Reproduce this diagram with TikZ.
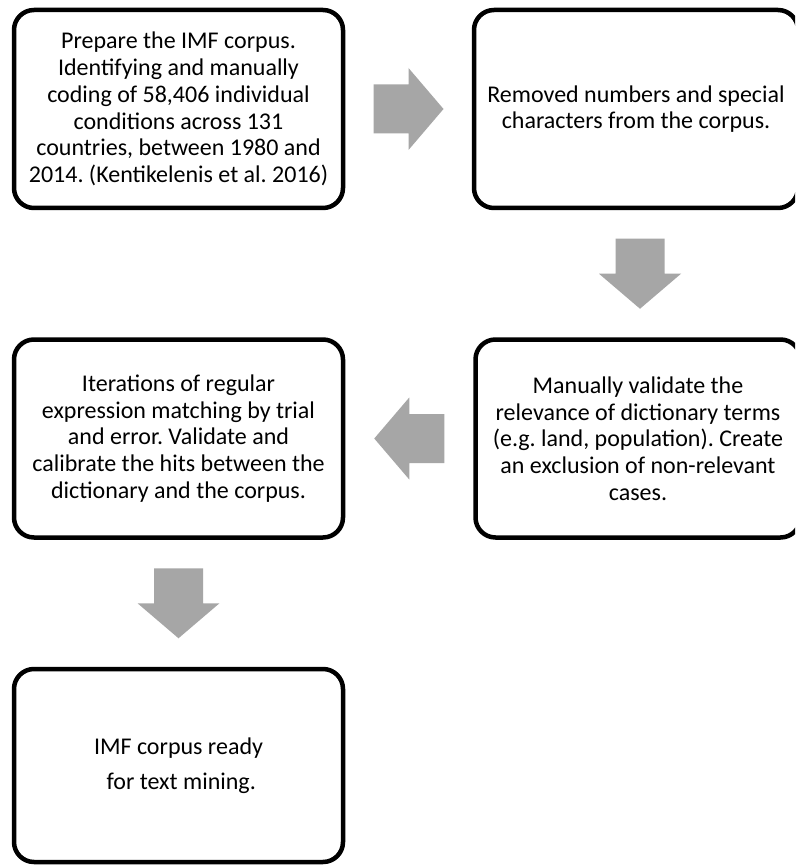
\documentclass[tikz,border=0pt]{standalone}
\usepackage{fontspec}
\setmainfont{Carlito}
\usetikzlibrary{calc}
\definecolor{arrowgray}{HTML}{A6A6A6}
\tikzset{
  x=1pt, y=1pt,
  stepbox/.style={draw=black, line width=4.5pt, rounded corners=20pt, fill=white,
    inner sep=0pt, outer sep=0pt, minimum width=329pt, minimum height=198pt,
    align=center, font=\fontsize{24}{26.7}\selectfont\frenchspacing},
  arrowfill/.style={fill=arrowgray, draw=none}
}
\newcommand\myblockarrow[2]{%
  \fill[arrowfill, shift={(#1)}, rotate=#2]
    (-35,24.5) -- (0,24.5) -- (0,41) -- (35,0) -- (0,-41) -- (0,-24.5) -- (-35,-24.5) -- cycle;}
\begin{document}
\begin{tikzpicture}
\useasboundingbox (0,0) rectangle (795,-866);
\clip (0,0) rectangle (795,-866);
\fill[white] (0,0) rectangle (795,-866);

\node[stepbox] (b1) at (178.5,-109) {Prepare the IMF corpus.\\Identifying and manually\\coding of 58,406 individual\\conditions across 131\\countries, between 1980 and\\2014. (Kentikelenis et al. 2016)};
\node[stepbox, minimum width=324pt] (b2) at (636,-109) {Removed numbers and special\\characters from the corpus.};
\node[stepbox, minimum width=325pt] (b3) at (638,-438.5) {Manually validate the\\relevance of dictionary terms\\(e.g. land, population). Create\\an exclusion of non-relevant\\cases.};
\node[stepbox] (b4) at (178.5,-438.5) {Iterations of regular\\expression matching by trial\\and error. Validate and\\calibrate the hits between the\\dictionary and the corpus.};
\node[stepbox, minimum height=193pt] (b5) at (178.5,-765.5) {IMF corpus ready\\[8.3pt]~for text mining.};

\myblockarrow{$(b1.east)!0.5!(b2.west)$}{0}
\myblockarrow{$(b2.south)!0.5!(b3.north)+(3,0)$}{-90}
\myblockarrow{$(b3.west)!0.5!(b4.east)$}{180}
\myblockarrow{$(b4.south)!0.5!(b5.north)$}{-90}
\end{tikzpicture}
\end{document}
